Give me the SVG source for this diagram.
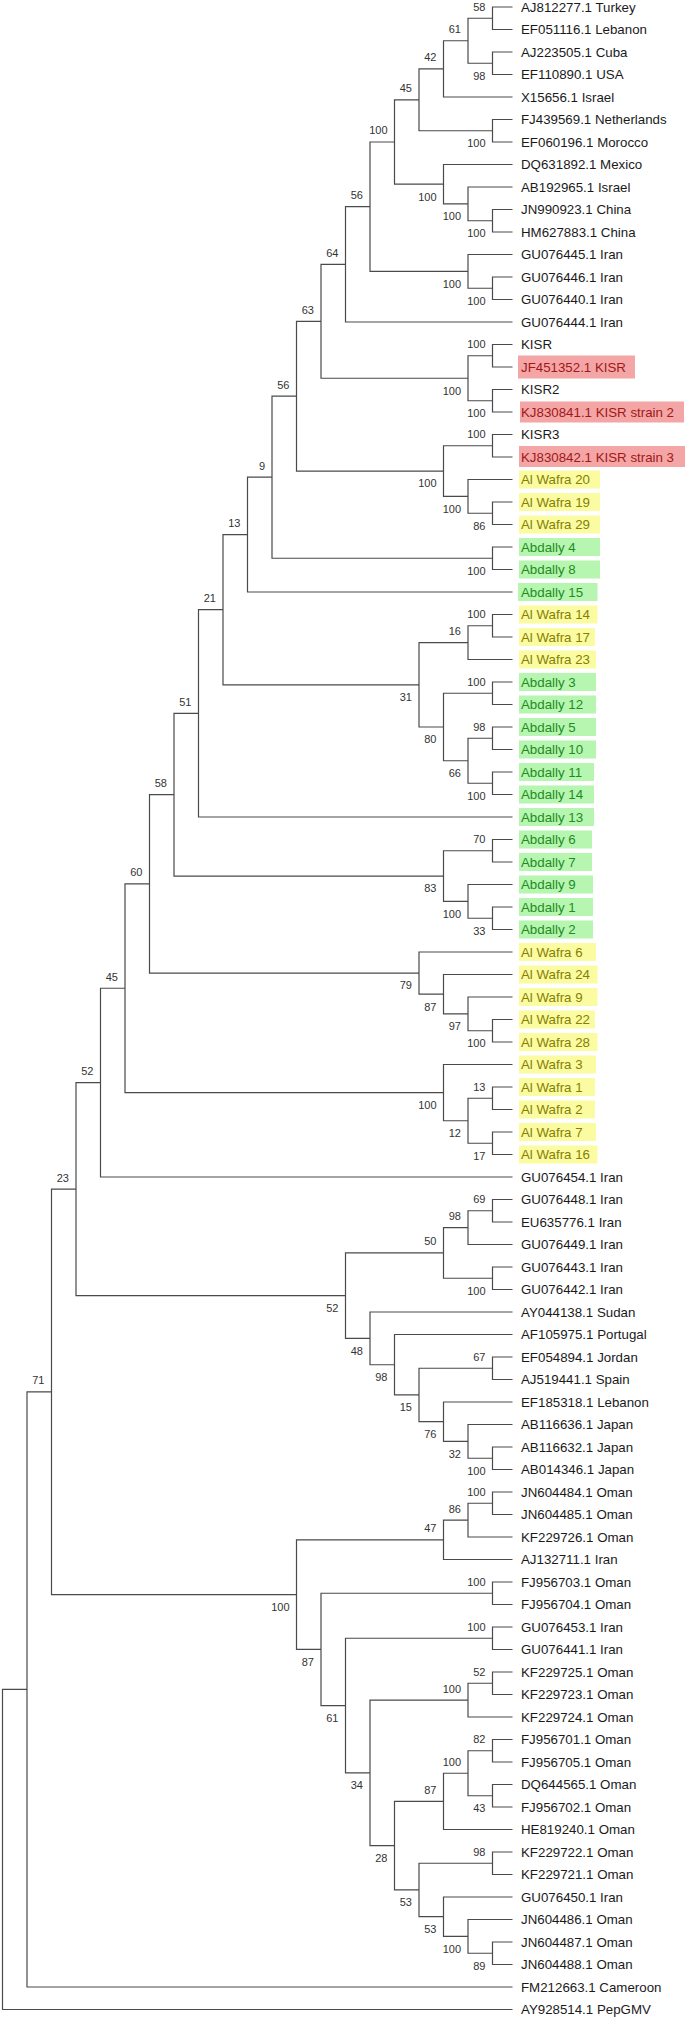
<svg xmlns="http://www.w3.org/2000/svg" width="685" height="2019" viewBox="0 0 685 2019">
<style>
.br{fill:none;stroke:#4a4a4a;stroke-width:1.2}
.lf{font-family:"Liberation Sans",Arial,sans-serif;font-size:13.3px;fill:#1a1a1a}
.bs{font-family:"Liberation Sans",Arial,sans-serif;font-size:11px;fill:#333;text-anchor:end}
.yb{fill:#fbfba2}.yt{fill:#858000}
.gb{fill:#b6f6b0}.gt{fill:#1e8c1e}
.rb{fill:#f4a5a5}.rt{fill:#a01818}
</style>
<rect width="685" height="2019" fill="#fff"/>
<g id="connectors" class="br">
<path d="M512.5 7H492.5V29.5H512.5"/>
<path d="M512.5 52H492.5V74.5H512.5"/>
<path d="M492.5 18.25H468V63.25H492.5"/>
<path d="M468 40.75H443.5V97H512.5"/>
<path d="M512.5 119.5H492.5V142H512.5"/>
<path d="M443.5 68.88H419V130.75H492.5"/>
<path d="M512.5 209.5H492.5V232H512.5"/>
<path d="M512.5 187H468V220.75H492.5"/>
<path d="M512.5 164.5H443.5V203.88H468"/>
<path d="M419 99.81H394.5V184.19H443.5"/>
<path d="M512.5 277H492.5V299.5H512.5"/>
<path d="M512.5 254.5H468V288.25H492.5"/>
<path d="M394.5 142H370V271.38H468"/>
<path d="M370 206.69H345.5V322H512.5"/>
<path d="M512.5 344.5H492.5V367H512.5"/>
<path d="M512.5 389.5H492.5V412H512.5"/>
<path d="M492.5 355.75H468V400.75H492.5"/>
<path d="M345.5 264.34H321V378.25H468"/>
<path d="M512.5 434.5H492.5V457H512.5"/>
<path d="M512.5 502H492.5V524.5H512.5"/>
<path d="M512.5 479.5H468V513.25H492.5"/>
<path d="M492.5 445.75H443.5V496.38H468"/>
<path d="M321 321.3H296.5V471.06H443.5"/>
<path d="M512.5 547H492.5V569.5H512.5"/>
<path d="M296.5 396.18H272V558.25H492.5"/>
<path d="M272 477.21H247.5V592H512.5"/>
<path d="M512.5 614.5H492.5V637H512.5"/>
<path d="M492.5 625.75H468V659.5H512.5"/>
<path d="M512.5 682H492.5V704.5H512.5"/>
<path d="M512.5 727H492.5V749.5H512.5"/>
<path d="M512.5 772H492.5V794.5H512.5"/>
<path d="M492.5 738.25H468V783.25H492.5"/>
<path d="M492.5 693.25H443.5V760.75H468"/>
<path d="M468 642.63H419V727H443.5"/>
<path d="M247.5 534.61H223V684.81H419"/>
<path d="M223 609.71H198.5V817H512.5"/>
<path d="M512.5 839.5H492.5V862H512.5"/>
<path d="M512.5 907H492.5V929.5H512.5"/>
<path d="M512.5 884.5H468V918.25H492.5"/>
<path d="M492.5 850.75H443.5V901.38H468"/>
<path d="M198.5 713.36H174V876.06H443.5"/>
<path d="M512.5 1019.5H492.5V1042H512.5"/>
<path d="M512.5 997H468V1030.75H492.5"/>
<path d="M512.5 974.5H443.5V1013.88H468"/>
<path d="M512.5 952H419V994.19H443.5"/>
<path d="M174 794.71H149.5V973.09H419"/>
<path d="M512.5 1087H492.5V1109.5H512.5"/>
<path d="M512.5 1132H492.5V1154.5H512.5"/>
<path d="M492.5 1098.25H468V1143.25H492.5"/>
<path d="M512.5 1064.5H443.5V1120.75H468"/>
<path d="M149.5 883.9H125V1092.63H443.5"/>
<path d="M125 988.26H100.5V1177H512.5"/>
<path d="M512.5 1199.5H492.5V1222H512.5"/>
<path d="M492.5 1210.75H468V1244.5H512.5"/>
<path d="M512.5 1267H492.5V1289.5H512.5"/>
<path d="M468 1227.63H443.5V1278.25H492.5"/>
<path d="M512.5 1357H492.5V1379.5H512.5"/>
<path d="M512.5 1447H492.5V1469.5H512.5"/>
<path d="M512.5 1424.5H468V1458.25H492.5"/>
<path d="M512.5 1402H443.5V1441.38H468"/>
<path d="M492.5 1368.25H419V1421.69H443.5"/>
<path d="M512.5 1334.5H394.5V1394.97H419"/>
<path d="M512.5 1312H370V1364.73H394.5"/>
<path d="M443.5 1252.94H345.5V1338.37H370"/>
<path d="M100.5 1082.63H76V1295.65H345.5"/>
<path d="M512.5 1492H492.5V1514.5H512.5"/>
<path d="M492.5 1503.25H468V1537H512.5"/>
<path d="M468 1520.13H443.5V1559.5H512.5"/>
<path d="M512.5 1582H492.5V1604.5H512.5"/>
<path d="M512.5 1627H492.5V1649.5H512.5"/>
<path d="M512.5 1672H492.5V1694.5H512.5"/>
<path d="M492.5 1683.25H468V1717H512.5"/>
<path d="M512.5 1739.5H492.5V1762H512.5"/>
<path d="M512.5 1784.5H492.5V1807H512.5"/>
<path d="M492.5 1750.75H468V1795.75H492.5"/>
<path d="M468 1773.25H443.5V1829.5H512.5"/>
<path d="M512.5 1852H492.5V1874.5H512.5"/>
<path d="M512.5 1942H492.5V1964.5H512.5"/>
<path d="M512.5 1919.5H468V1953.25H492.5"/>
<path d="M512.5 1897H443.5V1936.38H468"/>
<path d="M492.5 1863.25H419V1916.69H443.5"/>
<path d="M443.5 1801.38H394.5V1889.97H419"/>
<path d="M468 1700.13H370V1845.67H394.5"/>
<path d="M492.5 1638.25H345.5V1772.9H370"/>
<path d="M492.5 1593.25H321V1705.57H345.5"/>
<path d="M443.5 1539.81H296.5V1649.41H321"/>
<path d="M76 1189.14H51.5V1594.61H296.5"/>
<path d="M51.5 1391.88H27V1987H512.5"/>
<path d="M27 1689.44H2.5V2009.5H512.5"/>
</g>
<g id="internal-nodes" class="bs">
<g id="n58a"><text x="485.5" y="10.6">58</text></g>
<g id="n98a"><text x="485.5" y="79.5">98</text></g>
<g id="n61"><text x="461" y="33.1">61</text></g>
<g id="n42"><text x="436.5" y="61.3">42</text></g>
<g id="n100a"><text x="485.5" y="147">100</text></g>
<g id="n45t"><text x="412" y="92.2">45</text></g>
<g id="n100c"><text x="485.5" y="237">100</text></g>
<g id="n100b"><text x="461" y="220.2">100</text></g>
<g id="n100m"><text x="436.5" y="200.5">100</text></g>
<g id="nA"><text x="387.5" y="134.4">100</text></g>
<g id="n100e"><text x="485.5" y="304.5">100</text></g>
<g id="n100d"><text x="461" y="287.7">100</text></g>
<g id="n56a"><text x="363" y="199.1">56</text></g>
<g id="n64"><text x="338.5" y="256.7">64</text></g>
<g id="n100k1"><text x="485.5" y="348.1">100</text></g>
<g id="n100k2"><text x="485.5" y="417">100</text></g>
<g id="n100K"><text x="461" y="394.5">100</text></g>
<g id="n63"><text x="314" y="313.7">63</text></g>
<g id="n100k3"><text x="485.5" y="438.1">100</text></g>
<g id="n86w"><text x="485.5" y="529.5">86</text></g>
<g id="n100w"><text x="461" y="512.7">100</text></g>
<g id="n100K3"><text x="436.5" y="487.4">100</text></g>
<g id="n56b"><text x="289.5" y="388.6">56</text></g>
<g id="n100ab"><text x="485.5" y="574.5">100</text></g>
<g id="n9"><text x="265" y="469.6">9</text></g>
<g id="n13"><text x="240.5" y="527">13</text></g>
<g id="n100aw"><text x="485.5" y="618.1">100</text></g>
<g id="n16"><text x="461" y="635">16</text></g>
<g id="n100a3"><text x="485.5" y="685.6">100</text></g>
<g id="n98ab"><text x="485.5" y="730.6">98</text></g>
<g id="n100ab2"><text x="485.5" y="799.5">100</text></g>
<g id="n66"><text x="461" y="777">66</text></g>
<g id="n80"><text x="436.5" y="743.3">80</text></g>
<g id="n31"><text x="412" y="701.1">31</text></g>
<g id="n21"><text x="216" y="602.1">21</text></g>
<g id="n51"><text x="191.5" y="705.8">51</text></g>
<g id="n70"><text x="485.5" y="843.1">70</text></g>
<g id="n33"><text x="485.5" y="934.5">33</text></g>
<g id="n100q"><text x="461" y="917.7">100</text></g>
<g id="n83"><text x="436.5" y="892.4">83</text></g>
<g id="n58b"><text x="167" y="787.1">58</text></g>
<g id="n100r"><text x="485.5" y="1047">100</text></g>
<g id="n97"><text x="461" y="1030.2">97</text></g>
<g id="n87w"><text x="436.5" y="1010.5">87</text></g>
<g id="n79"><text x="412" y="989.4">79</text></g>
<g id="n60"><text x="142.5" y="876.3">60</text></g>
<g id="n13w"><text x="485.5" y="1090.6">13</text></g>
<g id="n17w"><text x="485.5" y="1159.5">17</text></g>
<g id="n12"><text x="461" y="1137">12</text></g>
<g id="n100s"><text x="436.5" y="1108.9">100</text></g>
<g id="n45"><text x="118" y="980.7">45</text></g>
<g id="n52"><text x="93.5" y="1075">52</text></g>
<g id="n69"><text x="485.5" y="1203.1">69</text></g>
<g id="n98i"><text x="461" y="1220">98</text></g>
<g id="n100i"><text x="485.5" y="1294.5">100</text></g>
<g id="n50"><text x="436.5" y="1245.3">50</text></g>
<g id="n67"><text x="485.5" y="1360.6">67</text></g>
<g id="n100j"><text x="485.5" y="1474.5">100</text></g>
<g id="n32"><text x="461" y="1457.7">32</text></g>
<g id="n76"><text x="436.5" y="1438">76</text></g>
<g id="n15"><text x="412" y="1411.3">15</text></g>
<g id="n98p"><text x="387.5" y="1381">98</text></g>
<g id="n48"><text x="363" y="1354.7">48</text></g>
<g id="n52b"><text x="338.5" y="1312">52</text></g>
<g id="n23"><text x="69" y="1181.5">23</text></g>
<g id="n100o1"><text x="485.5" y="1495.6">100</text></g>
<g id="n86"><text x="461" y="1512.5">86</text></g>
<g id="n47"><text x="436.5" y="1532.2">47</text></g>
<g id="n100o2"><text x="485.5" y="1585.6">100</text></g>
<g id="n100o3"><text x="485.5" y="1630.6">100</text></g>
<g id="n52o"><text x="485.5" y="1675.6">52</text></g>
<g id="n100o4"><text x="461" y="1692.5">100</text></g>
<g id="n82"><text x="485.5" y="1743.1">82</text></g>
<g id="n43"><text x="485.5" y="1812">43</text></g>
<g id="n100o5"><text x="461" y="1765.6">100</text></g>
<g id="n87o"><text x="436.5" y="1793.8">87</text></g>
<g id="n98o"><text x="485.5" y="1855.6">98</text></g>
<g id="n89"><text x="485.5" y="1969.5">89</text></g>
<g id="n100o6"><text x="461" y="1952.7">100</text></g>
<g id="n53b"><text x="436.5" y="1933">53</text></g>
<g id="n53a"><text x="412" y="1906.3">53</text></g>
<g id="n28"><text x="387.5" y="1862">28</text></g>
<g id="n34"><text x="363" y="1789.2">34</text></g>
<g id="n61o"><text x="338.5" y="1721.9">61</text></g>
<g id="n87"><text x="314" y="1665.7">87</text></g>
<g id="n100O"><text x="289.5" y="1610.9">100</text></g>
<g id="n71"><text x="44.5" y="1384.3">71</text></g>
</g>
<g id="leaves" class="lf">
<g id="leaf1"><text x="521" y="11.8">AJ812277.1 Turkey</text></g>
<g id="leaf2"><text x="521" y="34.3">EF051116.1 Lebanon</text></g>
<g id="leaf3"><text x="521" y="56.8">AJ223505.1 Cuba</text></g>
<g id="leaf4"><text x="521" y="79.3">EF110890.1 USA</text></g>
<g id="leaf5"><text x="521" y="101.8">X15656.1 Israel</text></g>
<g id="leaf6"><text x="521" y="124.3">FJ439569.1 Netherlands</text></g>
<g id="leaf7"><text x="521" y="146.8">EF060196.1 Morocco</text></g>
<g id="leaf8"><text x="521" y="169.3">DQ631892.1 Mexico</text></g>
<g id="leaf9"><text x="521" y="191.8">AB192965.1 Israel</text></g>
<g id="leaf10"><text x="521" y="214.3">JN990923.1 China</text></g>
<g id="leaf11"><text x="521" y="236.8">HM627883.1 China</text></g>
<g id="leaf12"><text x="521" y="259.3">GU076445.1 Iran</text></g>
<g id="leaf13"><text x="521" y="281.8">GU076446.1 Iran</text></g>
<g id="leaf14"><text x="521" y="304.3">GU076440.1 Iran</text></g>
<g id="leaf15"><text x="521" y="326.8">GU076444.1 Iran</text></g>
<g id="leaf16"><text x="521" y="349.3">KISR</text></g>
<g id="leaf17"><rect class="rb" x="518" y="355.5" width="117" height="23"/><text class="rt" x="521" y="371.8">JF451352.1 KISR</text></g>
<g id="leaf18"><text x="521" y="394.3">KISR2</text></g>
<g id="leaf19"><rect class="rb" x="520" y="401.5" width="164" height="21"/><text class="rt" x="521" y="416.8">KJ830841.1 KISR strain 2</text></g>
<g id="leaf20"><text x="521" y="439.3">KISR3</text></g>
<g id="leaf21"><rect class="rb" x="519" y="446" width="166" height="21"/><text class="rt" x="521" y="461.8">KJ830842.1 KISR strain 3</text></g>
<g id="leaf22"><rect class="yb" x="519" y="470.5" width="81" height="18"/><text class="yt" x="521" y="484.3">Al Wafra 20</text></g>
<g id="leaf23"><rect class="yb" x="519" y="493" width="81" height="18"/><text class="yt" x="521" y="506.8">Al Wafra 19</text></g>
<g id="leaf24"><rect class="yb" x="519" y="515.5" width="81" height="18"/><text class="yt" x="521" y="529.3">Al Wafra 29</text></g>
<g id="leaf25"><rect class="gb" x="519" y="538" width="81" height="18"/><text class="gt" x="521" y="551.8">Abdally 4</text></g>
<g id="leaf26"><rect class="gb" x="519" y="560.5" width="81" height="18"/><text class="gt" x="521" y="574.3">Abdally 8</text></g>
<g id="leaf27"><rect class="gb" x="518" y="583" width="79.5" height="18"/><text class="gt" x="521" y="596.8">Abdally 15</text></g>
<g id="leaf28"><rect class="yb" x="519" y="605.5" width="78.5" height="18"/><text class="yt" x="521" y="619.3">Al Wafra 14</text></g>
<g id="leaf29"><rect class="yb" x="519" y="628" width="76" height="18"/><text class="yt" x="521" y="641.8">Al Wafra 17</text></g>
<g id="leaf30"><rect class="yb" x="519" y="650.5" width="77" height="18"/><text class="yt" x="521" y="664.3">Al Wafra 23</text></g>
<g id="leaf31"><rect class="gb" x="519" y="673" width="77" height="18"/><text class="gt" x="521" y="686.8">Abdally 3</text></g>
<g id="leaf32"><rect class="gb" x="519" y="695.5" width="77" height="18"/><text class="gt" x="521" y="709.3">Abdally 12</text></g>
<g id="leaf33"><rect class="gb" x="519" y="718" width="77" height="18"/><text class="gt" x="521" y="731.8">Abdally 5</text></g>
<g id="leaf34"><rect class="gb" x="519" y="740.5" width="77" height="18"/><text class="gt" x="521" y="754.3">Abdally 10</text></g>
<g id="leaf35"><rect class="gb" x="519" y="763" width="75" height="18"/><text class="gt" x="521" y="776.8">Abdally 11</text></g>
<g id="leaf36"><rect class="gb" x="519" y="785.5" width="75" height="18"/><text class="gt" x="521" y="799.3">Abdally 14</text></g>
<g id="leaf37"><rect class="gb" x="519" y="808" width="75" height="18"/><text class="gt" x="521" y="821.8">Abdally 13</text></g>
<g id="leaf38"><rect class="gb" x="519" y="830.5" width="73" height="18"/><text class="gt" x="521" y="844.3">Abdally 6</text></g>
<g id="leaf39"><rect class="gb" x="519" y="853" width="73" height="18"/><text class="gt" x="521" y="866.8">Abdally 7</text></g>
<g id="leaf40"><rect class="gb" x="519" y="875.5" width="74" height="18"/><text class="gt" x="521" y="889.3">Abdally 9</text></g>
<g id="leaf41"><rect class="gb" x="519" y="898" width="74" height="18"/><text class="gt" x="521" y="911.8">Abdally 1</text></g>
<g id="leaf42"><rect class="gb" x="519" y="920.5" width="74" height="18"/><text class="gt" x="521" y="934.3">Abdally 2</text></g>
<g id="leaf43"><rect class="yb" x="519" y="943" width="77" height="18"/><text class="yt" x="521" y="956.8">Al Wafra 6</text></g>
<g id="leaf44"><rect class="yb" x="519" y="965.5" width="78.5" height="18"/><text class="yt" x="521" y="979.3">Al Wafra 24</text></g>
<g id="leaf45"><rect class="yb" x="519" y="988" width="78.5" height="18"/><text class="yt" x="521" y="1001.8">Al Wafra 9</text></g>
<g id="leaf46"><rect class="yb" x="519" y="1010.5" width="76" height="18"/><text class="yt" x="521" y="1024.3">Al Wafra 22</text></g>
<g id="leaf47"><rect class="yb" x="519" y="1033" width="78.5" height="18"/><text class="yt" x="521" y="1046.8">Al Wafra 28</text></g>
<g id="leaf48"><rect class="yb" x="519" y="1055.5" width="77" height="18"/><text class="yt" x="521" y="1069.3">Al Wafra 3</text></g>
<g id="leaf49"><rect class="yb" x="519" y="1078" width="76" height="18"/><text class="yt" x="521" y="1091.8">Al Wafra 1</text></g>
<g id="leaf50"><rect class="yb" x="519" y="1100.5" width="76" height="18"/><text class="yt" x="521" y="1114.3">Al Wafra 2</text></g>
<g id="leaf51"><rect class="yb" x="519" y="1123" width="77" height="18"/><text class="yt" x="521" y="1136.8">Al Wafra 7</text></g>
<g id="leaf52"><rect class="yb" x="519" y="1145.5" width="78.5" height="18"/><text class="yt" x="521" y="1159.3">Al Wafra 16</text></g>
<g id="leaf53"><text x="521" y="1181.8">GU076454.1 Iran</text></g>
<g id="leaf54"><text x="521" y="1204.3">GU076448.1 Iran</text></g>
<g id="leaf55"><text x="521" y="1226.8">EU635776.1 Iran</text></g>
<g id="leaf56"><text x="521" y="1249.3">GU076449.1 Iran</text></g>
<g id="leaf57"><text x="521" y="1271.8">GU076443.1 Iran</text></g>
<g id="leaf58"><text x="521" y="1294.3">GU076442.1 Iran</text></g>
<g id="leaf59"><text x="521" y="1316.8">AY044138.1 Sudan</text></g>
<g id="leaf60"><text x="521" y="1339.3">AF105975.1 Portugal</text></g>
<g id="leaf61"><text x="521" y="1361.8">EF054894.1 Jordan</text></g>
<g id="leaf62"><text x="521" y="1384.3">AJ519441.1 Spain</text></g>
<g id="leaf63"><text x="521" y="1406.8">EF185318.1 Lebanon</text></g>
<g id="leaf64"><text x="521" y="1429.3">AB116636.1 Japan</text></g>
<g id="leaf65"><text x="521" y="1451.8">AB116632.1 Japan</text></g>
<g id="leaf66"><text x="521" y="1474.3">AB014346.1 Japan</text></g>
<g id="leaf67"><text x="521" y="1496.8">JN604484.1 Oman</text></g>
<g id="leaf68"><text x="521" y="1519.3">JN604485.1 Oman</text></g>
<g id="leaf69"><text x="521" y="1541.8">KF229726.1 Oman</text></g>
<g id="leaf70"><text x="521" y="1564.3">AJ132711.1 Iran</text></g>
<g id="leaf71"><text x="521" y="1586.8">FJ956703.1 Oman</text></g>
<g id="leaf72"><text x="521" y="1609.3">FJ956704.1 Oman</text></g>
<g id="leaf73"><text x="521" y="1631.8">GU076453.1 Iran</text></g>
<g id="leaf74"><text x="521" y="1654.3">GU076441.1 Iran</text></g>
<g id="leaf75"><text x="521" y="1676.8">KF229725.1 Oman</text></g>
<g id="leaf76"><text x="521" y="1699.3">KF229723.1 Oman</text></g>
<g id="leaf77"><text x="521" y="1721.8">KF229724.1 Oman</text></g>
<g id="leaf78"><text x="521" y="1744.3">FJ956701.1 Oman</text></g>
<g id="leaf79"><text x="521" y="1766.8">FJ956705.1 Oman</text></g>
<g id="leaf80"><text x="521" y="1789.3">DQ644565.1 Oman</text></g>
<g id="leaf81"><text x="521" y="1811.8">FJ956702.1 Oman</text></g>
<g id="leaf82"><text x="521" y="1834.3">HE819240.1 Oman</text></g>
<g id="leaf83"><text x="521" y="1856.8">KF229722.1 Oman</text></g>
<g id="leaf84"><text x="521" y="1879.3">KF229721.1 Oman</text></g>
<g id="leaf85"><text x="521" y="1901.8">GU076450.1 Iran</text></g>
<g id="leaf86"><text x="521" y="1924.3">JN604486.1 Oman</text></g>
<g id="leaf87"><text x="521" y="1946.8">JN604487.1 Oman</text></g>
<g id="leaf88"><text x="521" y="1969.3">JN604488.1 Oman</text></g>
<g id="leaf89"><text x="521" y="1991.8">FM212663.1 Cameroon</text></g>
<g id="leaf90"><text x="521" y="2014.3">AY928514.1 PepGMV</text></g>
</g>
</svg>
